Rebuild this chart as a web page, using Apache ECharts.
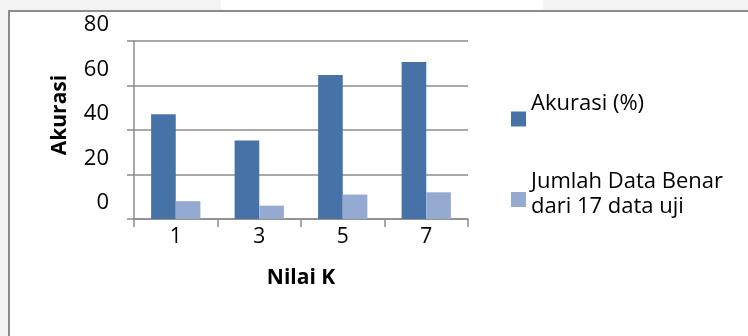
<!DOCTYPE html>
<html>
<head>
<meta charset="utf-8">
<script src="https://cdn.jsdelivr.net/npm/echarts@6/dist/echarts.min.js"></script>
<style>
  html, body { margin: 0; padding: 0; width: 748px; height: 336px; overflow: hidden; background: #f3f3f3; }
  #tab { position: absolute; left: 221px; top: 0; width: 322px; height: 10px; background: #ffffff; }
  #frame { position: absolute; left: 8px; top: 10px; width: 740px; height: 326px; background: #ffffff;
           border-top: 2px solid #8c8c8c; border-left: 2px solid #8c8c8c; box-sizing: border-box; }
  #chart { position: absolute; left: 0; top: 0; width: 738px; height: 324px; }
</style>
</head>
<body>
<div id="tab"></div>
<div id="frame"><div id="chart"></div></div>
<script>
// K values tested and the results for each
const categories = ['1', '3', '5', '7'];
const akurasi = [47.06, 35.29, 64.71, 70.59];      // accuracy in percent
const jumlahBenar = [8, 6, 11, 12];                // correct out of 17 test records
const seriesNames = ['Akurasi (%)', 'Jumlah Data Benar dari 17 data uji'];
const yMin = 0, yMax = 80, yStep = 20;

const FONT = '"Open Sans", "Noto Sans", sans-serif';
const DARK = '#4672a8';
const LIGHT = '#94aad0';
const GRIDC = '#8c8c8c';

// chart container sits at (10,12) inside the page
const OX = 10, OY = 12;

// legend labels sit a little above their swatches; an empty trailing line lifts them
const legendRich = {
  t: { fontFamily: FONT, fontSize: 22, color: '#000', lineHeight: 25 },
  g: { fontSize: 1, lineHeight: 30 },
  h: { fontSize: 1, lineHeight: 10 }
};

const chart = echarts.init(document.getElementById('chart'), null, { renderer: 'canvas' });
chart.setOption({
  animation: false,
  backgroundColor: '#ffffff',
  textStyle: { fontFamily: FONT, color: '#000' },
  grid: {
    left: 134 - OX, top: 41 - OY, right: 748 - 468, bottom: 336 - 219,
    containLabel: false, outerBoundsMode: 'none'
  },
  legend: [
    {
      data: [seriesNames[0]],
      left: 511 - OX, top: 93 - OY, orient: 'vertical', padding: 0,
      itemWidth: 15, itemHeight: 15,
      icon: 'rect',
      formatter: () => '{t|Akurasi (%)}\n{g| }',
      textStyle: { rich: legendRich }
    },
    {
      data: [seriesNames[1]],
      left: 511 - OX, top: 171 - OY, orient: 'vertical', padding: 0,
      itemWidth: 15, itemHeight: 15,
      icon: 'rect',
      formatter: () => '{t|Jumlah Data Benar}\n{t|dari 17 data uji}\n{h| }',
      textStyle: { rich: legendRich }
    }
  ],
  xAxis: {
    type: 'category',
    data: categories,
    name: 'Nilai K',
    nameLocation: 'middle',
    nameGap: 49,
    nameTextStyle: { fontFamily: FONT, fontSize: 21, fontWeight: 'bold', color: '#000' },
    axisLine: { show: true, lineStyle: { color: GRIDC, width: 1.5 } },
    axisTick: { show: true, alignWithLabel: false, inside: false, length: 8, lineStyle: { color: GRIDC, width: 1.5 } },
    axisLabel: { fontFamily: FONT, fontSize: 21, color: '#000', margin: 8 }
  },
  yAxis: {
    type: 'value',
    min: yMin, max: yMax, interval: yStep,
    // spacer before the title lifts it along the rotated baseline
    name: '{s| }{b|Akurasi}',
    nameLocation: 'middle',
    nameGap: 63,
    nameRotate: 90,
    nameTextStyle: {
      color: '#000',
      rich: {
        s: { width: 30, fontSize: 1 },
        b: { fontFamily: FONT, fontSize: 21, fontWeight: 'bold', color: '#000' }
      }
    },
    axisLine: { show: true, lineStyle: { color: GRIDC, width: 1.5 } },
    axisTick: { show: true, inside: false, length: 7, lineStyle: { color: GRIDC, width: 1.5 } },
    splitLine: { show: true, lineStyle: { color: GRIDC, width: 1.5 } },
    axisLabel: { fontFamily: FONT, fontSize: 22, color: '#000', margin: 25, verticalAlign: 'bottom', lineHeight: 32 }
  },
  series: [
    {
      name: seriesNames[0], type: 'bar', data: akurasi,
      itemStyle: { color: DARK }, barGap: '0%', barCategoryGap: '41%'
    },
    {
      name: seriesNames[1], type: 'bar', data: jumlahBenar,
      itemStyle: { color: LIGHT }, barGap: '0%', barCategoryGap: '41%'
    }
  ]
});
</script>
</body>
</html>
